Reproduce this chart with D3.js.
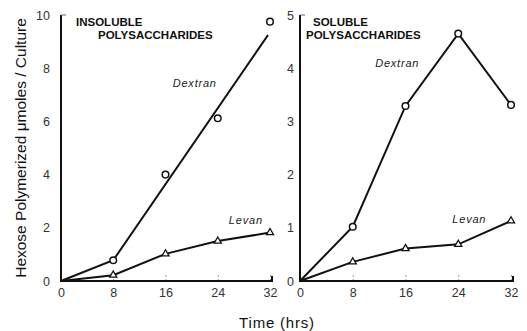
<!DOCTYPE html>
<html>
<head>
<meta charset="utf-8">
<script src="https://cdn.jsdelivr.net/npm/d3@7"></script>
<style>
  body { margin: 0; background: #fff; }
  text { font-family: "Liberation Sans", Arial, sans-serif; fill: #111; }
  .tick-label { font-size: 12.5px; fill: #333; }
  .panel-title { font-size: 11.5px; font-weight: bold; }
  .series-label { font-size: 11px; font-style: italic; letter-spacing: 0.8px; fill: #222; }
</style>
</head>
<body>
<div class="chart"></div>
<script>
// Time points (hrs) shared by both panels
var hours = [0, 8, 16, 24, 32];
var xTicks = [0, 8, 16, 24, 32];

// Insoluble polysaccharides (left panel)
var insolDextran = [0, 0.78, 4.0, 6.12, 9.75];
var insolDextranFitHours = [0, 8, 31.7];
var insolDextranFit = [0, 0.78, 9.25];
var insolLevan = [0, 0.22, 1.02, 1.5, 1.82];
var insolTicks = [0, 2, 4, 6, 8, 10];

// Soluble polysaccharides (right panel)
var solDextran = [0, 1.02, 3.29, 4.65, 3.31];
var solLevan = [0, 0.36, 0.61, 0.69, 1.13];
var solTicks = [0, 1, 2, 3, 4, 5];

var svgWidth = 527;
var svgHeight = 331;

var svg = d3.select(".chart")
            .append("svg")
            .attr("width", svgWidth)
            .attr("height", svgHeight);

var panels = [
  {
    left: 61, right: 270, yMax: 10, yTicks: insolTicks, labelGap: 11,
    title: ["INSOLUBLE", "POLYSACCHARIDES"], titleX: [15, 37],
    dextranLine: insolDextranFitHours.map((h, i) => [h, insolDextranFit[i]]),
    dextranPts: hours.slice(1).map((h, i) => [h, insolDextran[i + 1]]),
    levan: hours.map((h, i) => [h, insolLevan[i]]),
    dextranLabel: [17.1, 7.3], levanLabel: [25.7, 2.15]
  },
  {
    left: 300, right: 511, yMax: 5, yTicks: solTicks, labelGap: 6,
    title: ["SOLUBLE", "POLYSACCHARIDES"], titleX: [13, 6],
    dextranLine: hours.map((h, i) => [h, solDextran[i]]),
    dextranPts: hours.slice(1).map((h, i) => [h, solDextran[i + 1]]),
    levan: hours.map((h, i) => [h, solLevan[i]]),
    dextranLabel: [11.4, 4.02], levanLabel: [23.1, 1.09]
  }
];

var plotTop = 15, plotBottom = 281;

panels.forEach(function(p) {
  var x = d3.scaleLinear().domain([0, 32]).range([p.left, p.right]);
  var y = d3.scaleLinear().domain([0, p.yMax]).range([plotBottom, plotTop]);
  var g = svg.append("g");

  // x axis (ticks point up into the plot, dotted)
  var xAxis = g.append("g")
    .attr("transform", `translate(0, ${plotBottom})`)
    .call(d3.axisBottom(x).tickValues(xTicks).tickSize(-6).tickPadding(7).tickFormat(d3.format("d")));
  xAxis.select(".domain").remove();
  xAxis.selectAll(".tick line").attr("stroke", "#999").attr("stroke-dasharray", "2,2");
  xAxis.selectAll(".tick text").attr("class", "tick-label").attr("font-family", null).attr("font-size", null).attr("fill", null);

  // y axis
  var yAxis = g.append("g")
    .attr("transform", `translate(${x(0)}, 0)`)
    .call(d3.axisLeft(y).tickValues(p.yTicks).tickSize(0).tickPadding(p.labelGap).tickFormat(d3.format("d")));
  yAxis.select(".domain").remove();
  yAxis.selectAll(".tick text").attr("class", "tick-label").attr("font-family", null).attr("font-size", null).attr("fill", null);

  // axis lines
  g.append("path")
    .attr("d", d3.line()([[x(0), y(p.yMax)], [x(0), y(0)], [x(32) + 2, y(0)], [x(32) + 2, y(0) - 5]]))
    .attr("fill", "none").attr("stroke", "#111").attr("stroke-width", 2);
  g.append("line")
    .attr("x1", x(0)).attr("x2", x(0) + 5)
    .attr("y1", y(p.yMax)).attr("y2", y(p.yMax))
    .attr("stroke", "#666").attr("stroke-width", 1);

  var line = d3.line().x(d => x(d[0])).y(d => y(d[1]));

  g.append("path").attr("d", line(p.dextranLine))
    .attr("fill", "none").attr("stroke", "#111").attr("stroke-width", 2);
  g.append("path").attr("d", line(p.levan))
    .attr("fill", "none").attr("stroke", "#111").attr("stroke-width", 2);

  // Dextran markers (open circles)
  g.selectAll("circle")
    .data(p.dextranPts)
    .enter()
    .append("circle")
    .attr("cx", d => x(d[0]))
    .attr("cy", d => y(d[1]))
    .attr("r", 3.3)
    .attr("fill", "#fff")
    .attr("stroke", "#111")
    .attr("stroke-width", 1.5);

  // Levan markers (open triangles)
  g.selectAll("path.tri")
    .data(p.levan.slice(1))
    .enter()
    .append("path")
    .attr("class", "tri")
    .attr("d", d3.symbol().type(d3.symbolTriangle).size(22))
    .attr("transform", d => `translate(${x(d[0])}, ${y(d[1])})`)
    .attr("fill", "#fff")
    .attr("stroke", "#111")
    .attr("stroke-width", 1.3);

  // panel titles
  g.append("text").attr("class", "panel-title")
    .attr("x", p.left + p.titleX[0]).attr("y", 26).text(p.title[0]);
  g.append("text").attr("class", "panel-title")
    .attr("x", p.left + p.titleX[1]).attr("y", 39).text(p.title[1]);

  // series labels
  g.append("text").attr("class", "series-label")
    .attr("x", x(p.dextranLabel[0])).attr("y", y(p.dextranLabel[1])).text("Dextran");
  g.append("text").attr("class", "series-label")
    .attr("x", x(p.levanLabel[0])).attr("y", y(p.levanLabel[1])).text("Levan");
});

// axis titles
svg.append("text")
   .attr("transform", "rotate(-90)")
   .attr("x", -148)
   .attr("y", 26)
   .style("text-anchor", "middle")
   .style("font-size", "15.5px")
   .text("Hexose Polymerized \u03bcmoles / Culture");

svg.append("text")
   .attr("x", 277)
   .attr("y", 328)
   .style("text-anchor", "middle")
   .style("font-size", "15px")
   .style("letter-spacing", "0.8px")
   .text("Time (hrs)");
</script>
</body>
</html>
